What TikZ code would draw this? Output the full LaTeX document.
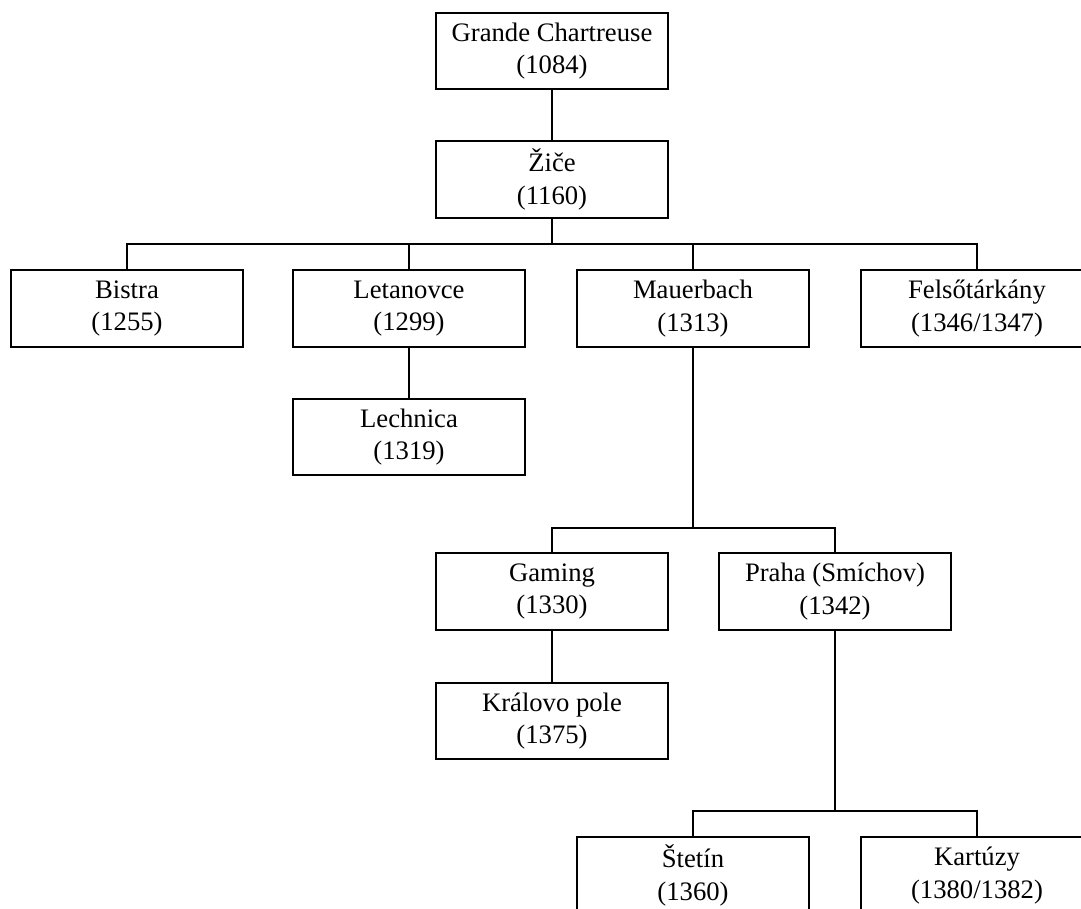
\documentclass[tikz,border=0pt]{standalone}
\usepackage{fontspec}
\setmainfont{Liberation Serif}
\begin{document}
\begin{tikzpicture}[x=0.75pt,y=-0.75pt,line width=1.5pt,
    house/.style={draw,rectangle,inner sep=0pt,minimum width=174pt,minimum height=57.5pt,
      align=center,font=\fontsize{20}{24.5}\selectfont}]
            \useasboundingbox (0,0) rectangle (1081,909);
            \node[house] (gc) at (552,51) {Grande Chartreuse\\(1084)};
            \node[house] (ziche) at (552,179.5) {Žiče\\(1160)};
            \node[house] (bistra) at (127,308.5) {Bistra\\(1255)};
            \node[house] (letan) at (409,308.5) {Letanovce\\(1299)};
            \node[house] (mauer) at (693,308.5) {Mauerbach\\(1313)};
            \node[house] (felso) at (977,308.5) {Felsőtárkány\\(1346/1347)};
            \node[house] (lech) at (409,437) {Lechnica\\(1319)};
            \node[house] (gaming) at (552,591.5) {Gaming\\(1330)};
            \node[house] (praha) at (835,591.5) {Praha (Smíchov)\\(1342)};
            \node[house] (kralovo) at (552,721) {Královo pole\\(1375)};
            \node[house] (stetin) at (693,875.5) {Štetín\\(1360)};
            \node[house] (kartuzy) at (977,875.5) {Kartúzy\\(1380/1382)};
            \coordinate (busa) at (552,244);
            \coordinate (busb) at (693,528);
            \coordinate (busc) at (835,811);
            \draw (gc) -- (ziche);
            \draw (ziche.south) -- (busa);
            \draw (bistra.north) |- (busa) -| (felso.north);
            \draw (letan.north) -- (letan.north |- busa);
            \draw (mauer.north) -- (mauer.north |- busa);
            \draw (letan) -- (lech);
            \draw (mauer.south) -- (busb);
            \draw (gaming.north) |- (busb) -| (praha.north);
            \draw (gaming) -- (kralovo);
            \draw (praha.south) -- (busc);
            \draw (stetin.north) |- (busc) -| (kartuzy.north);
        \end{tikzpicture}
\end{document}
